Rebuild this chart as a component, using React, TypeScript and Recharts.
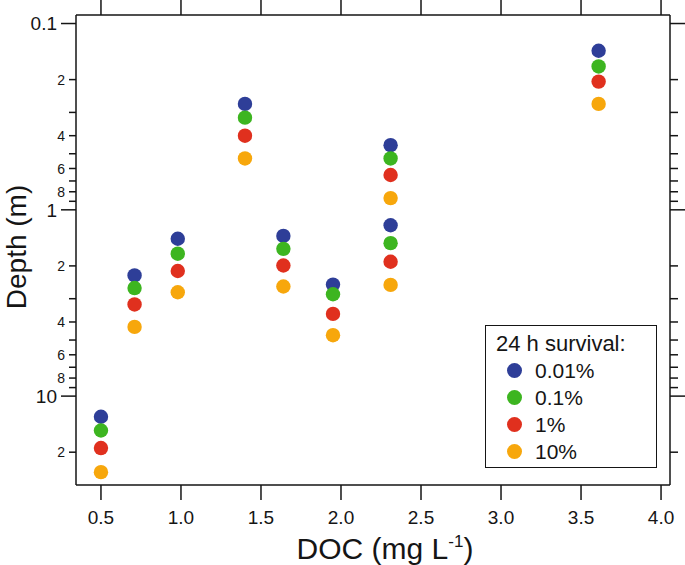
import React from 'react';
import { ScatterChart, Scatter, XAxis, YAxis, Legend } from 'recharts';

// DOC (mg L-1) of each sampling station, depths (m) of the 24 h survival levels
const docValues = [0.5, 0.71, 0.98, 1.4, 1.64, 1.95, 2.31, 2.31, 3.61];
const depth001 = [12.9, 2.25, 1.43, 0.27, 1.38, 2.52, 0.45, 1.21, 0.14];
const depth01 = [15.3, 2.63, 1.72, 0.32, 1.62, 2.84, 0.53, 1.51, 0.17];
const depth1 = [19.0, 3.22, 2.13, 0.4, 1.99, 3.62, 0.65, 1.9, 0.205];
const depth10 = [25.6, 4.25, 2.77, 0.53, 2.58, 4.71, 0.865, 2.53, 0.27];

const seriesNames = ['0.01%', '0.1%', '1%', '10%'];
const seriesColors = ['#2e3e98', '#3db520', '#e0301e', '#f7a70c'];
const seriesDepths = [depth001, depth01, depth1, depth10];

const xTicks = [0.5, 1.0, 1.5, 2.0, 2.5, 3.0, 3.5, 4.0];
const yTicks = [0.1, 0.2, 0.3, 0.4, 0.5, 0.6, 0.7, 0.8, 0.9, 1, 2, 3, 4, 5, 6, 7, 8, 9, 10, 20];
const yTickLabels = ['0.1', '2', '', '4', '', '6', '', '8', '', '1', '2', '', '4', '', '6', '', '8', '', '10', '2'];
const yMajor = [0.1, 1, 10];

const FONT = '"Liberation Sans", Arial, Helvetica, sans-serif';
const INK = '#151515';

const LeftTick = (props: any) => {
  const { x, y, payload } = props;
  const v = payload.value;
  const label = yTickLabels[yTicks.indexOf(v)] ?? '';
  const major = yMajor.includes(v);
  const len = major ? 15 : 7;
  return (
    <g>
      <line x1={x - len} x2={x} y1={y} y2={y} stroke={INK} strokeWidth={1.5} />
      {label && (
        <text x={x - len - 4} y={y} dy="0.36em" textAnchor="end" fontSize={major ? 19 : 14} fontFamily={FONT} fill={INK}>
          {label}
        </text>
      )}
    </g>
  );
};

const RightTick = (props: any) => {
  const { x, y, payload } = props;
  const len = yMajor.includes(payload.value) ? 15 : 8;
  return <line x1={x} x2={x + len} y1={y} y2={y} stroke={INK} strokeWidth={1.5} />;
};

const BottomTick = (props: any) => {
  const { x, y, payload } = props;
  return (
    <g>
      <line x1={x} x2={x} y1={y} y2={y + 15} stroke={INK} strokeWidth={1.5} />
      <text x={x} y={y + 39} textAnchor="middle" fontSize={19} fontFamily={FONT} fill={INK}>
        {payload.value.toFixed(1)}
      </text>
    </g>
  );
};

const TopTick = (props: any) => {
  const { x, y } = props;
  return <line x1={x} x2={x} y1={y - 15} y2={y} stroke={INK} strokeWidth={1.5} />;
};

const renderLegend = (props: any) => {
  const { payload } = props;
  return (
    <div style={{ border: `1.5px solid ${INK}`, background: '#fff', width: 172, height: 143, padding: '4px 0 0 10px', boxSizing: 'border-box', fontFamily: FONT, color: INK }}>
      <div style={{ fontSize: 22, lineHeight: '27px' }}>24 h survival:</div>
      {(payload || []).map((entry: any) => (
        <div key={entry.value} style={{ display: 'flex', alignItems: 'center', height: 27 }}>
          <span style={{ display: 'inline-block', width: 15, height: 15, borderRadius: '50%', background: entry.color, marginLeft: 11 }} />
          <span style={{ fontSize: 21, marginLeft: 13 }}>{entry.value}</span>
        </div>
      ))}
    </div>
  );
};

export default function App() {
  const axisLine = { stroke: INK, strokeWidth: 1.5 };

  return (
    <div style={{ position: 'absolute', left: 0, top: 0, width: 685, height: 565, background: '#fff' }}>
      <ScatterChart width={685} height={565} margin={{ top: 0, right: 0, bottom: 0, left: 0 }}>
        <XAxis
          xAxisId="bottom"
          type="number"
          dataKey="doc"
          domain={[0.344, 4.056]}
          allowDataOverflow
          ticks={xTicks}
          interval={0}
          height={80}
          tickSize={0}
          tickMargin={0}
          tickLine={false}
          axisLine={axisLine}
          tick={(p: any) => <BottomTick {...p} />}
          label={{
            content: () => (
              <text x={385} y={559} textAnchor="middle" fontSize={30} fontFamily={FONT} fill={INK}>
                DOC (mg L
                <tspan dy={-12} fontSize={17}>-1</tspan>
                <tspan dy={12}>)</tspan>
              </text>
            ),
          }}
        />
        <XAxis
          xAxisId="top"
          orientation="top"
          type="number"
          dataKey="doc"
          domain={[0.344, 4.056]}
          allowDataOverflow
          ticks={xTicks}
          interval={0}
          height={15}
          tickSize={0}
          tickMargin={0}
          tickLine={false}
          axisLine={axisLine}
          tick={(p: any) => <TopTick {...p} />}
        />
        <YAxis
          yAxisId="left"
          type="number"
          dataKey="depth"
          scale="log"
          domain={[0.09, 30]}
          allowDataOverflow
          reversed
          ticks={yTicks}
          interval={0}
          width={76}
          tickSize={0}
          tickMargin={0}
          tickLine={false}
          axisLine={axisLine}
          tick={(p: any) => <LeftTick {...p} />}
          label={{
            content: () => (
              <text x={26} y={247} transform="rotate(-90 26 247)" textAnchor="middle" fontSize={28} fontFamily={FONT} fill={INK}>
                Depth (m)
              </text>
            ),
          }}
        />
        <YAxis
          yAxisId="right"
          orientation="right"
          type="number"
          dataKey="depth"
          scale="log"
          domain={[0.09, 30]}
          allowDataOverflow
          reversed
          ticks={yTicks}
          interval={0}
          width={15}
          tickSize={0}
          tickMargin={0}
          tickLine={false}
          axisLine={axisLine}
          tick={(p: any) => <RightTick {...p} />}
        />
        <Legend
          layout="vertical"
          align="center"
          verticalAlign="middle"
          wrapperStyle={{ left: 485, top: 325, width: 172, height: 143 }}
          content={renderLegend}
        />
        {seriesNames.map((name, s) => (
          <Scatter
            key={name}
            name={name}
            xAxisId="bottom"
            yAxisId="left"
            data={docValues.map((doc, i) => ({ doc, depth: seriesDepths[s][i] }))}
            fill={seriesColors[s]}
            isAnimationActive={false}
            shape={(p: any) => <circle cx={p.cx} cy={p.cy} r={7.2} fill={seriesColors[s]} />}
          />
        ))}
      </ScatterChart>
    </div>
  );
}
